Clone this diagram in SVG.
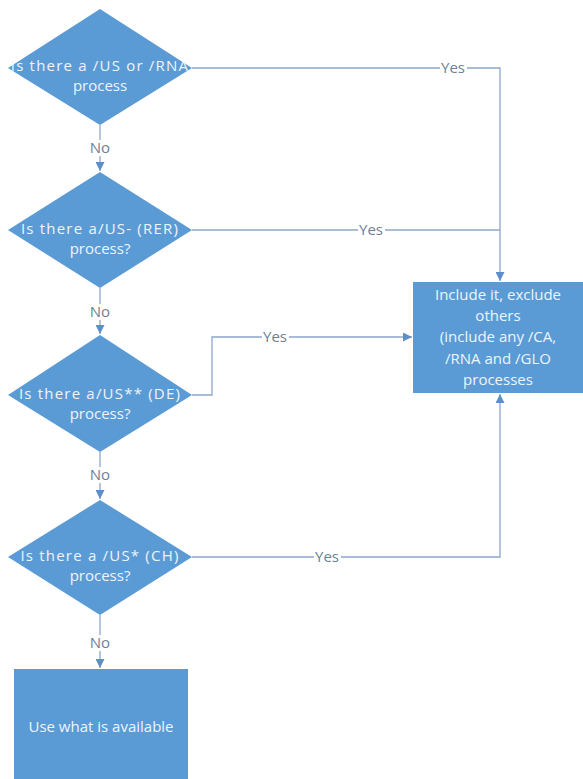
<svg xmlns="http://www.w3.org/2000/svg" width="583" height="779" viewBox="0 0 583 779">
<style>
.shape{fill:#5B9BD5;}
.nt{font-family:"Open Sans","Liberation Sans",sans-serif;font-size:15px;fill:#EEF4FB;text-anchor:middle;}
.wide{letter-spacing:1.2px;}
.conn{fill:none;stroke:#8DA7C9;stroke-width:1.3;}
.lbl{font-family:"Open Sans","Liberation Sans",sans-serif;font-size:15px;fill:#6E7F95;text-anchor:middle;}
.lblbg{fill:#FFFFFF;}
</style>
<defs>
<marker id="ah" viewBox="0 0 10 10" refX="10" refY="5" markerWidth="9" markerHeight="9" markerUnits="userSpaceOnUse" orient="auto">
<path d="M0,0 L10,5 L0,10 z" fill="#5B8FCB"/>
</marker>
</defs>
<rect width="583" height="779" fill="#FFFFFF"/>
<g id="connectors">
<path class="conn" d="M100,125 V171" marker-end="url(#ah)"/>
<path class="conn" d="M100,288 V334" marker-end="url(#ah)"/>
<path class="conn" d="M100,452 V499" marker-end="url(#ah)"/>
<path class="conn" d="M100,615 V668" marker-end="url(#ah)"/>
<path class="conn" d="M192,68 H500 V281" marker-end="url(#ah)"/>
<path class="conn" d="M192,230 H500"/>
<path class="conn" d="M192,395 H212 V337 H412" marker-end="url(#ah)"/>
<path class="conn" d="M192,557 H500 V394" marker-end="url(#ah)"/>
<rect class="lblbg" x="88" y="140" width="24" height="16"/>
<text class="lbl" x="100" y="153">No</text>
<rect class="lblbg" x="88" y="304" width="24" height="16"/>
<text class="lbl" x="100" y="317">No</text>
<rect class="lblbg" x="88" y="467" width="24" height="16"/>
<text class="lbl" x="100" y="480">No</text>
<rect class="lblbg" x="88" y="635" width="24" height="16"/>
<text class="lbl" x="100" y="648">No</text>
<rect class="lblbg" x="440" y="60" width="27" height="16"/>
<text class="lbl" x="453" y="73">Yes</text>
<rect class="lblbg" x="358" y="222" width="27" height="16"/>
<text class="lbl" x="371" y="235">Yes</text>
<rect class="lblbg" x="262" y="329" width="27" height="16"/>
<text class="lbl" x="275" y="342">Yes</text>
<rect class="lblbg" x="314" y="549" width="27" height="16"/>
<text class="lbl" x="327" y="562">Yes</text>
</g>
<g id="d1">
<polygon class="shape" points="100,9 192,68 100,125 8,68"/>
<text class="nt wide" x="100" y="71">Is there a /US or /RNA</text>
<text class="nt" x="100" y="91">process</text>
</g>
<g id="d2">
<polygon class="shape" points="100,172 192,230 100,288 8,230"/>
<text class="nt wide" x="100" y="234">Is there a/US- (RER)</text>
<text class="nt" x="100" y="254">process?</text>
</g>
<g id="d3">
<polygon class="shape" points="100,335 192,395 100,452 8,395"/>
<text class="nt wide" x="100" y="399">Is there a/US** (DE)</text>
<text class="nt" x="100" y="419">process?</text>
</g>
<g id="d4">
<polygon class="shape" points="100,500 192,557 100,615 8,557"/>
<text class="nt wide" x="100" y="561">Is there a /US* (CH)</text>
<text class="nt" x="100" y="581">process?</text>
</g>
<g id="include">
<rect class="shape" x="413" y="282" width="170" height="111"/>
<text class="nt" x="498" y="300">Include it, exclude</text>
<text class="nt" x="498" y="321">others</text>
<text class="nt" x="498" y="342">(include any /CA,</text>
<text class="nt" x="498" y="364">/RNA and /GLO</text>
<text class="nt" x="498" y="385">processes</text>
</g>
<g id="use">
<rect class="shape" x="14" y="669" width="174" height="115"/>
<text class="nt" x="101" y="732">Use what is available</text>
</g>
</svg>
